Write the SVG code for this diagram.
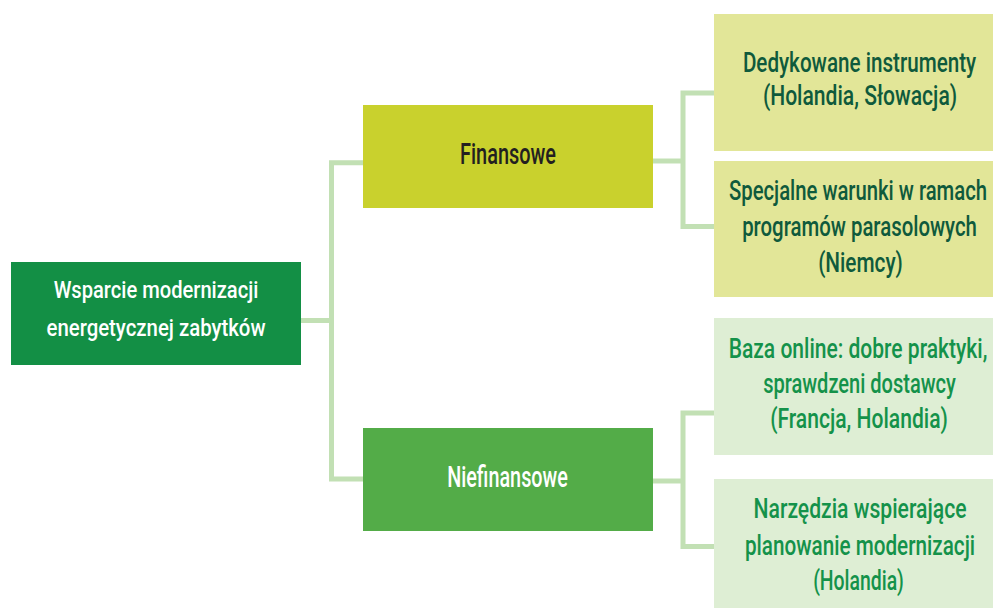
<svg xmlns="http://www.w3.org/2000/svg" width="993" height="608" viewBox="0 0 993 608">
<style>
.t{font-family:Roboto,"Liberation Sans",Arial,sans-serif;font-weight:500;text-anchor:middle}
.c{fill:none;stroke:#c2e0b4;stroke-width:5;stroke-linejoin:miter}
.w{fill:#ffffff}
.dg{fill:#0f5a3c}
.lg{fill:#14924a}
</style>
<rect width="993" height="608" fill="#ffffff"/>
<g id="connectors">
<path class="c" d="M301,320.5 H331.5"/>
<path class="c" d="M363,162.7 H331.5 V479 H363"/>
<path class="c" d="M653,161 H683"/>
<path class="c" d="M714,93 H683 V226.5 H714"/>
<path class="c" d="M653,481 H683"/>
<path class="c" d="M714,413 H683 V546.5 H714"/>
</g>
<g id="root">
<rect x="11" y="262" width="290" height="103" fill="#138f45"/>
<text class="t w" transform="translate(156,298) scale(0.75,1)" font-size="24" textLength="273" lengthAdjust="spacingAndGlyphs">Wsparcie modernizacji</text>
<text class="t w" transform="translate(156,336) scale(0.75,1)" font-size="24" textLength="292" lengthAdjust="spacingAndGlyphs">energetycznej zabytków</text>
</g>
<g id="finansowe">
<rect x="363" y="105" width="290" height="103" fill="#c9d12d"/>
<text class="t" transform="translate(508,164) scale(0.75,1)" font-size="29" fill="#231f20" textLength="128" lengthAdjust="spacingAndGlyphs">Finansowe</text>
</g>
<g id="niefinansowe">
<rect x="363" y="428" width="290" height="103" fill="#53ac48"/>
<text class="t w" transform="translate(507.5,487) scale(0.75,1)" font-size="29" textLength="161" lengthAdjust="spacingAndGlyphs">Niefinansowe</text>
</g>
<g id="dedykowane">
<rect x="714" y="14" width="279" height="137" fill="#e2e698"/>
<text class="t dg" transform="translate(859.5,72) scale(0.75,1)" font-size="28" textLength="311" lengthAdjust="spacingAndGlyphs">Dedykowane instrumenty</text>
<text class="t dg" transform="translate(860,105) scale(0.75,1)" font-size="28" textLength="259" lengthAdjust="spacingAndGlyphs">(Holandia, Słowacja)</text>
</g>
<g id="specjalne">
<rect x="714" y="161" width="279" height="136" fill="#e2e698"/>
<text class="t dg" transform="translate(858,200) scale(0.75,1)" font-size="28" textLength="344" lengthAdjust="spacingAndGlyphs">Specjalne warunki w ramach</text>
<text class="t dg" transform="translate(859.5,236) scale(0.75,1)" font-size="28" textLength="313" lengthAdjust="spacingAndGlyphs">programów parasolowych</text>
<text class="t dg" transform="translate(860.5,272) scale(0.75,1)" font-size="28" textLength="113" lengthAdjust="spacingAndGlyphs">(Niemcy)</text>
</g>
<g id="baza">
<rect x="714" y="318" width="279" height="137" fill="#deeed4"/>
<text class="t lg" transform="translate(858,358) scale(0.75,1)" font-size="28" textLength="345" lengthAdjust="spacingAndGlyphs">Baza online: dobre praktyki,</text>
<text class="t lg" transform="translate(859.5,393) scale(0.75,1)" font-size="28" textLength="257" lengthAdjust="spacingAndGlyphs">sprawdzeni dostawcy</text>
<text class="t lg" transform="translate(859,428) scale(0.75,1)" font-size="28" textLength="237" lengthAdjust="spacingAndGlyphs">(Francja, Holandia)</text>
</g>
<g id="narzedzia">
<rect x="714" y="479" width="279" height="129" fill="#deeed4"/>
<text class="t lg" transform="translate(860,518) scale(0.75,1)" font-size="28" textLength="284" lengthAdjust="spacingAndGlyphs">Narzędzia wspierające</text>
<text class="t lg" transform="translate(860,555) scale(0.75,1)" font-size="28" textLength="307" lengthAdjust="spacingAndGlyphs">planowanie modernizacji</text>
<text class="t lg" transform="translate(858.5,590) scale(0.75,1)" font-size="28" textLength="121" lengthAdjust="spacingAndGlyphs">(Holandia)</text>
</g>
</svg>
